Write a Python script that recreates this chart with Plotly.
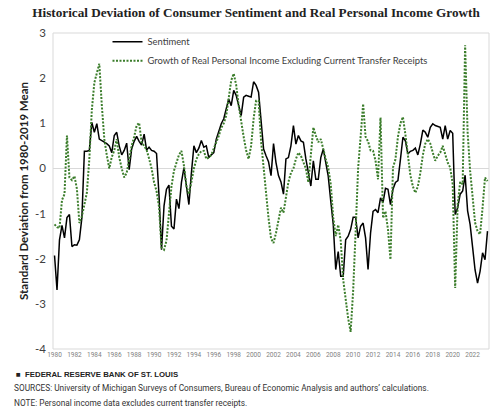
import plotly.graph_objects as go

start_year = 1980
tick_years = list(range(1980, 2023, 2))

sentiment = [
    -1.93, -2.69, -1.58, -1.26,   # 1980
    -1.54, -1.09, -1.02, -1.73,   # 1981
    -1.69, -1.70, -1.58, -1.09,   # 1982
    0.38, 0.38, 0.40, 1.02,       # 1983
    0.80, 0.99, 0.65, 0.62,       # 1984
    0.59, 0.55, 0.50, 0.35,       # 1985
    0.73, 0.80, 0.50, 0.30,       # 1986
    0.40, 0.56, -0.03, 0.43,      # 1987
    0.60, 0.71, 0.60, 0.52,       # 1988
    0.76, 0.41, 0.47, 0.40,       # 1989
    0.38, 0.33, -0.60, -1.80,     # 1990
    -0.83, -0.46, -0.37, -1.28,   # 1991
    -1.34, -0.68, -0.89, -0.31,   # 1992
    0.02, -0.35, -0.80, -0.10,    # 1993
    0.50, 0.35, 0.45, 0.62,       # 1994
    0.47, 0.50, 0.24, 0.30,       # 1995
    0.35, 0.65, 0.85, 0.99,       # 1996
    1.10, 1.32, 1.54, 1.39,       # 1997
    1.73, 1.62, 1.40, 1.17,       # 1998
    1.58, 1.62, 1.60, 1.58,       # 1999
    1.92, 1.84, 1.69, 1.02,       # 2000
    0.43, 0.28, 0.15, -0.16,      # 2001
    0.55, 0.13, -0.16, -0.30,     # 2002
    -0.57, 0.21, 0.24, 0.50,      # 2003
    0.95, 0.54, 0.73, 0.61,       # 2004
    0.58, 0.21, -0.09, -0.39,     # 2005
    0.17, -0.24, -0.24, 0.24,     # 2006
    0.43, 0.10, -0.17, -0.72,     # 2007
    -1.24, -2.24, -1.84, -2.39,   # 2008
    -2.39, -1.58, -1.50, -1.35,   # 2009
    -1.08, -1.08, -1.54, -1.28,   # 2010
    -1.21, -1.54, -2.24, -1.43,   # 2011
    -0.95, -0.91, -0.98, -0.65,   # 2012
    -0.75, -0.44, -0.46, -0.80,   # 2013
    -0.46, -0.31, -0.27, 0.20,    # 2014
    0.69, 0.61, 0.32, 0.38,       # 2015
    0.40, 0.45, 0.30, 0.54,       # 2016
    0.85, 0.80, 0.69, 0.91,       # 2017
    0.99, 0.95, 0.93, 0.91,       # 2018
    0.65, 0.95, 0.65, 0.84,       # 2019
    0.78, -1.02, -0.87, -0.57,    # 2020
    -0.50, -0.15, -0.94, -1.24,   # 2021
    -1.75, -2.25, -2.54, -2.28,   # 2022
    -1.87, -2.02, -1.39,          # 2023
]

income_growth = [
    -1.24, -1.30, -1.32, -0.70,   # 1980
    -0.57, 0.73, -0.20, -0.26,    # 1981
    -0.17, -0.45, -1.21, -1.06,   # 1982
    -0.80, -0.54, 0.21, 1.30,     # 1983
    1.90, 2.10, 2.32, 1.40,       # 1984
    0.65, 0.30, 0.00, 0.25,       # 1985
    0.40, 0.65, 0.25, 0.00,       # 1986
    -0.20, -0.10, 0.25, 0.50,     # 1987
    0.70, 0.95, 1.01, 0.58,       # 1988
    0.50, 0.41, 0.22, 0.00,       # 1989
    -0.31, -0.50, -0.85, -1.75,   # 1990
    -1.80, -1.60, -1.00, -0.40,   # 1991
    -0.05, 0.15, 0.30, 0.39,      # 1992
    0.06, -0.39, -0.57, -0.30,    # 1993
    0.00, 0.20, 0.32, 0.38,       # 1994
    0.39, 0.21, 0.24, 0.30,       # 1995
    0.43, 0.60, 0.72, 0.90,       # 1996
    1.00, 1.17, 1.60, 1.95,       # 1997
    2.10, 1.85, 1.40, 1.02,       # 1998
    0.70, 0.40, 0.21, 0.50,       # 1999
    1.10, 1.50, 1.50, 0.60,       # 2000
    0.00, -0.45, -1.10, -1.55,    # 2001
    -1.65, -1.43, -1.13, -0.87,   # 2002
    -0.98, -0.60, -0.30, -0.10,   # 2003
    0.00, 0.21, 0.35, 0.28,       # 2004
    0.13, 0.00, -0.31, 0.30,      # 2005
    0.91, 0.73, 0.58, 0.65,       # 2006
    0.39, 0.21, 0.02, -0.35,      # 2007
    -1.09, -1.50, -1.25, -1.60,   # 2008
    -2.47, -2.95, -3.32, -3.62,   # 2009
    -2.70, -1.40, 0.00, 0.70,     # 2010
    1.43, 0.70, 0.60, 0.40,       # 2011
    0.39, 0.17, -0.24, 1.13,      # 2012
    -1.10, -0.95, -1.35, -2.02,   # 2013
    0.02, 0.20, 0.70, 1.00,       # 2014
    1.14, 0.75, 0.30, -0.15,      # 2015
    -0.40, -0.54, -0.40, -0.10,   # 2016
    0.30, 0.55, 0.65, 0.55,       # 2017
    0.35, 0.17, 0.28, 0.35,       # 2018
    0.50, 0.32, 0.13, 0.02,       # 2019
    -0.35, -2.65, -0.80, -0.30,   # 2020
    -0.35, 2.73, 0.80, -0.05,     # 2021
    -0.65, -1.20, -1.39, -1.46,   # 2022
    -0.87, -0.20, -0.28,          # 2023
]

series_names = ["Sentiment", "Growth of Real Personal Income Excluding Current Transfer Receipts"]
y_ticks = [3, 2, 1, 0, -1, -2, -3, -4]

n = len(sentiment)
quarters = [f"{start_year + i // 4}-{(i % 4) * 3 + 1:02d}-01" for i in range(n)]

fig = go.Figure()
fig.add_trace(go.Scatter(
    x=quarters, y=sentiment, name=series_names[0], mode="lines",
    line=dict(color="#000000", width=1.5),
))
fig.add_trace(go.Scatter(
    x=quarters, y=income_growth, name=series_names[1], mode="lines",
    line=dict(color="#3b7d2b", width=2, dash="2px,1.5px"),
))

fig.update_layout(
    width=500, height=412,
    margin=dict(l=53, r=11, t=33, b=63),
    paper_bgcolor="white", plot_bgcolor="white",
    title=dict(
        text="<b>Historical Deviation of Consumer Sentiment and Real Personal Income Growth</b>",
        font=dict(family="Liberation Serif", size=13.2, color="#222222"),
        x=0.512, xref="container", xanchor="center",
        y=0.971, yref="container", yanchor="middle",
        automargin=False,
    ),
    legend=dict(
        x=0.125, y=1.018, xanchor="left", yanchor="top",
        bgcolor="rgba(0,0,0,0)",
        font=dict(family="Lato", size=9.4, color="#404040"),
        tracegroupgap=0,
    ),
    showlegend=True,
)

fig.update_xaxes(
    type="date", automargin=False,
    range=["1979-11-06", "2023-08-25"],
    tickvals=[f"{y}-01-01" for y in tick_years],
    ticktext=[str(y) for y in tick_years],
    tickfont=dict(family="Roboto", size=6.5, color="#7f7f7f"),
    showgrid=False, zeroline=False, showline=False, ticks="",
)
fig.update_yaxes(
    range=[-4, 3], automargin=False,
    tickvals=y_ticks,
    ticktext=[str(v) for v in y_ticks],
    tickfont=dict(family="Lato", size=11.5, color="#404040"),
    showgrid=False, zeroline=True, zerolinecolor="#d9d9d9", zerolinewidth=1,
    showline=False, ticks="", ticklabelstandoff=6,
    title=dict(text="<b>Standard Deviation from 1980-2019 Mean</b>",
               font=dict(family="Lato", size=11.5, color="#222222"), standoff=4),
)

fig.add_shape(type="rect", xref="paper", yref="paper", x0=0, x1=1, y0=0, y1=1,
              line=dict(color="#d9d9d9", width=1), layer="below")

def px_x(px):
    return (px - 53) / 436

def px_y(py):
    return (349 - py) / 316

fig.add_annotation(
    text="<b>■  FEDERAL RESERVE BANK OF ST. LOUIS</b>",
    xref="paper", yref="paper", x=px_x(14), y=px_y(374),
    xanchor="left", yanchor="middle", showarrow=False,
    font=dict(family="Liberation Sans", size=7.8, color="#222222"),
)
fig.add_annotation(
    text="SOURCES: University of Michigan Surveys of Consumers, Bureau of Economic Analysis and authors\u2019 calculations.",
    xref="paper", yref="paper", x=px_x(12), y=px_y(388),
    xanchor="left", yanchor="middle", showarrow=False,
    font=dict(family="Roboto", size=8.3, color="#333333"),
)
fig.add_annotation(
    text="NOTE: Personal income data excludes current transfer receipts.",
    xref="paper", yref="paper", x=px_x(12), y=px_y(403),
    xanchor="left", yanchor="middle", showarrow=False,
    font=dict(family="Roboto", size=8.3, color="#333333"),
)

fig.write_html(
    "out.html",
    config={"displayModeBar": False},
    post_script="document.body.style.margin='0';document.body.style.overflow='hidden';",
)
